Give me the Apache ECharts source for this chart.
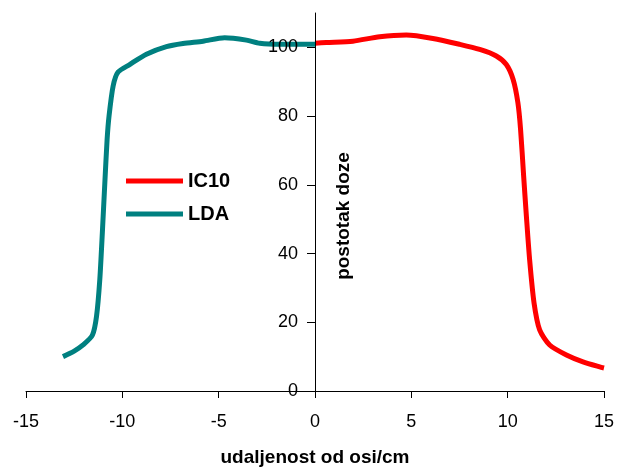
<!DOCTYPE html>
<html>
<head>
<meta charset="utf-8">
<script src="https://cdn.jsdelivr.net/npm/echarts@6/dist/echarts.min.js"></script>
<style>
html,body{margin:0;padding:0;background:#fff;}
#chart{width:622px;height:471px;}
</style>
</head>
<body>
<div id="chart"></div>
<script>
// Data
const ldaX = [-13.08, -12.5, -12.04, -11.55, -11.34, -11.17, -11.03, -10.9, -10.79, -10.69, -10.48, -10.22, -9.62, -8.75, -7.71, -6.85, -5.81, -4.69, -3.56, -2.87, -1.83, 0.0];
const ldaY = [10.0, 11.6, 13.4, 16.3, 21.7, 32.4, 46.9, 61.5, 73.2, 80.0, 88.7, 92.8, 95.0, 98.0, 100.2, 101.1, 101.8, 102.8, 102.1, 101.2, 100.9, 100.9];
const icX = [0, 0.59, 1.97, 3.36, 4.74, 6.12, 7.5, 8.55, 9.41, 9.93, 10.28, 10.53, 10.67, 10.83, 10.97, 11.14, 11.37, 11.66, 12.18, 13.05, 13.91, 14.86, 15];
const icY = [101.2, 101.4, 101.8, 103.1, 103.6, 102.6, 100.9, 99.4, 97.5, 95.0, 90.7, 83.9, 76.1, 62.5, 51.0, 38.2, 25.6, 17.8, 13.4, 10.5, 8.5, 6.9, 6.7];
const xTicks = [-15, -10, -5, 0, 5, 10, 15];
const yTicks = [0, 20, 40, 60, 80, 100];
const seriesNames = ['IC10', 'LDA'];
const xTitle = 'udaljenost od osi/cm';
const yTitle = 'postotak doze';

const zip = (xs, ys) => xs.map((x, i) => [x, ys[i]]);
const font = '"Liberation Sans", Arial, sans-serif';

const W = 622, gridLeft = 26, gridRight = 18;
const xMin = -15, xMax = 15;
const gridW = W - gridLeft - gridRight;
const yAxisOffset = -gridW * (0 - xMin) / (xMax - xMin);

const chart = echarts.init(document.getElementById('chart'), null, {renderer: 'canvas'});
chart.setOption({
  animation: false,
  backgroundColor: '#fff',
  grid: {left: gridLeft, right: gridRight, top: 13, bottom: 80, containLabel: false, outerBoundsMode: 'none'},
  legend: {
    orient: 'vertical',
    left: 126,
    top: 170,
    padding: 0,
    itemWidth: 57,
    itemHeight: 5,
    itemGap: 11,
    icon: 'rect',
    data: seriesNames,
    textStyle: {fontFamily: font, fontWeight: 'bold', fontSize: 20, color: '#000', lineHeight: 22}
  },
  xAxis: {
    type: 'value',
    min: xMin, max: xMax, interval: 5,
    splitLine: {show: false},
    axisLine: {onZero: false, lineStyle: {color: '#000', width: 1}},
    axisTick: {show: true, length: 7, lineStyle: {color: '#000'}, customValues: xTicks},
    axisLabel: {fontFamily: font, fontSize: 18, color: '#000', margin: 22, customValues: xTicks},
    name: xTitle,
    nameLocation: 'middle',
    nameGap: 57,
    nameTextStyle: {fontFamily: font, fontWeight: 'bold', fontSize: 19, color: '#000'}
  },
  yAxis: {
    type: 'value',
    min: 0, max: 110, interval: 20,
    position: 'left',
    offset: yAxisOffset,
    z: 3,
    splitLine: {show: false},
    axisLine: {onZero: false, lineStyle: {color: '#000', width: 1}},
    axisTick: {show: true, length: 8, lineStyle: {color: '#000'}, customValues: yTicks},
    axisLabel: {fontFamily: font, fontSize: 18, color: '#000', margin: 17, customValues: yTicks}
  },
  graphic: [{
    type: 'text',
    x: 344, y: 216,
    rotation: Math.PI / 2,
    style: {text: yTitle, font: 'bold 19px ' + font, fill: '#000', align: 'center', verticalAlign: 'middle'}
  }],
  series: [
    {
      name: 'IC10', type: 'line', data: zip(icX, icY), smooth: 0.25, showSymbol: false, symbol: 'none',
      lineStyle: {color: '#ff0000', width: 5}, itemStyle: {color: '#ff0000'}, z: 2
    },
    {
      name: 'LDA', type: 'line', data: zip(ldaX, ldaY), smooth: 0.25, showSymbol: false, symbol: 'none',
      lineStyle: {color: '#008080', width: 5}, itemStyle: {color: '#008080'}, z: 2
    }
  ]
});
</script>
</body>
</html>
